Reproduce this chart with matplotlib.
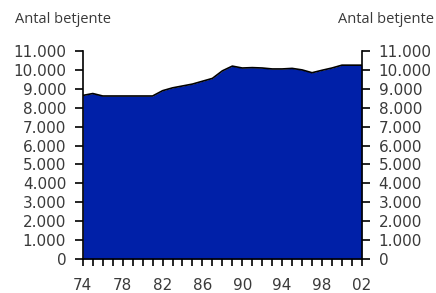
import matplotlib
matplotlib.use("Agg")
import matplotlib.pyplot as plt
from matplotlib.ticker import FixedLocator, MultipleLocator, FuncFormatter

years = list(range(1974, 2003))
betjente = [8650, 8750, 8620, 8620, 8620, 8620, 8620, 8620, 8900, 9050,
            9150, 9250, 9400, 9550, 9950, 10200, 10100, 10120, 10100, 10050,
            10050, 10080, 10000, 9850, 9980, 10100, 10250, 10250, 10250]
x_labels_years = [1974, 1978, 1982, 1986, 1990, 1994, 1998, 2002]
y_label = "Antal betjente"

plt.rcParams['font.family'] = ['DejaVu Sans']
txt = '#3a3a3a'

fig = plt.figure(figsize=(4.36, 2.93), dpi=100)
ax = fig.add_axes([0.190, 0.116, 0.640, 0.710])
ax.fill_between(years, betjente, 0, color='#0020A8', linewidth=0)
ax.plot(years, betjente, color='black', linewidth=1.2)

ax.set_xlim(1974, 2002)
ax.set_ylim(0, 11000)
ax.xaxis.set_major_locator(FixedLocator(x_labels_years))
ax.xaxis.set_minor_locator(MultipleLocator(1))
ax.xaxis.set_major_formatter(FuncFormatter(lambda v, p: f"{int(v) % 100:02d}"))
ax.yaxis.set_major_locator(MultipleLocator(1000))
ax.yaxis.set_major_formatter(FuncFormatter(lambda v, p: f"{int(v):,}".replace(",", ".")))

ax.spines['top'].set_visible(False)
for s in ['left', 'right', 'bottom']:
    ax.spines[s].set_linewidth(1.2)

ax.tick_params(axis='y', which='both', direction='out', length=6, width=1.2,
               left=True, right=True, labelleft=True, labelright=True,
               labelsize=11, labelcolor=txt, pad=6)
ax.tick_params(axis='x', which='major', direction='out', length=5, width=1.2,
               labelsize=11, labelcolor=txt, pad=9)
ax.tick_params(axis='x', which='minor', direction='out', length=5, width=1.2)

fig.text(0.035, 0.935, y_label, fontsize=10.5, color=txt, ha='left', va='center',
         family=['Open Sans', 'DejaVu Sans'])
fig.text(0.995, 0.935, y_label, fontsize=10.5, color=txt, ha='right', va='center',
         family=['Open Sans', 'DejaVu Sans'])

fig.savefig("out.png", dpi=100)
